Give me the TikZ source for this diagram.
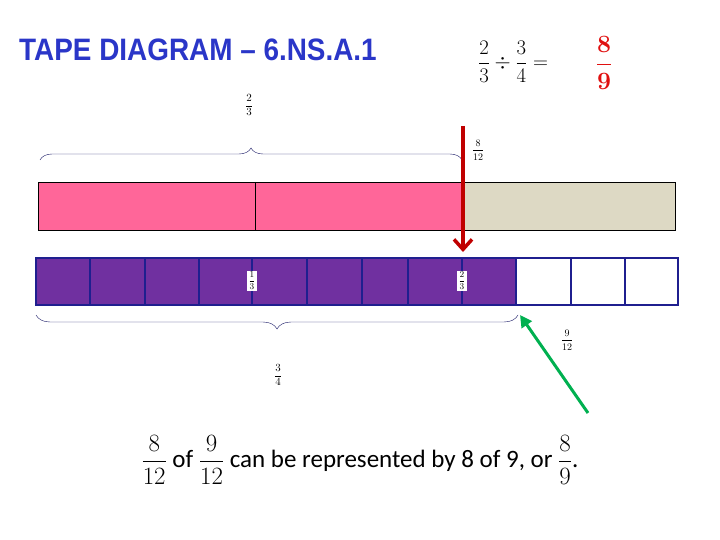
\documentclass[tikz,border=0pt]{standalone}
\usepackage{amsmath}
\usepackage{fontspec}
\setmainfont{Carlito}
\newfontfamily\titlefont{Liberation Sans}
\newfontfamily\serifb{Liberation Serif}
\usetikzlibrary{decorations.pathreplacing,arrows.meta}
\definecolor{tpink}{HTML}{FF6699}
\definecolor{tgrey}{HTML}{DDD9C4}
\definecolor{tpurple}{HTML}{7030A0}
\definecolor{tnavy}{HTML}{1F1F8F}
\definecolor{tblue}{HTML}{2A36C8}
\definecolor{tred}{HTML}{E01010}
\definecolor{tarrow}{HTML}{C00000}
\definecolor{tgreen}{HTML}{00B050}
\tikzset{
 cell/.style={draw=tnavy,line width=2.5pt},
 brace/.style={draw=tnavy!70!black,thin,decorate,decoration={brace,amplitude=12pt}},
 small/.style={font=\fontsize{10}{11}\selectfont,inner sep=1pt},
 lbl/.style={fill=white,font=\fontsize{9}{10}\selectfont,inner sep=1pt}
}
\begin{document}
\begin{tikzpicture}[x=1pt,y=-1pt]
\useasboundingbox (0,0) rectangle (720,540);
\node[anchor=west,font=\titlefont\bfseries\fontsize{31}{33}\selectfont,text=tblue,xscale=0.9] (title) at (16,50) {TAPE DIAGRAM – 6.NS.A.1};
\node[font=\fontsize{22}{24}\selectfont] (eq) at (513,62) {$\dfrac{2}{3}\div\dfrac{3}{4}=$};
\node[font=\fontsize{30}{32}\selectfont,text=tred] (ans) at (604,63) {$\boldsymbol{\dfrac{8}{9}}$};
% pink bar
\fill[tpink] (38,182) rectangle (465,230);
\fill[tgrey] (465,182) rectangle (675,230);
\draw[thin] (38,182) rectangle (675,230);
\draw[thin] (255,182) -- (255,230);
% purple bar
\fill[tpurple] (36,258) rectangle (516,305);
\foreach \x in {90,145,199,252,307,362,408,462,516,571,625}{\draw[cell,line width=2pt] (\x,258) -- (\x,305);}
\draw[cell] (36,258) rectangle (678,305);
\node[lbl] (l13) at (252,281) {$\dfrac{1}{3}$};
\node[lbl] (l23) at (462,281) {$\dfrac{2}{3}$};
% top brace
\coordinate (tb1) at (40,160);
\coordinate (tb2) at (462,160);
\draw[brace] (tb1) -- (tb2);
\node[small,font=\fontsize{11}{12}\selectfont] (t23) at (249,105) {$\dfrac{2}{3}$};
\node[small] (t812) at (478,150) {$\dfrac{8}{12}$};
% red arrow
\coordinate (ra) at (463,126);
\coordinate (rb) at (463,252);
\draw[tarrow,line width=3.5pt,-{Straight Barb[length=10pt,width=18pt]}] (ra) -- (rb);
% bottom brace
\coordinate (bb1) at (518,315);
\coordinate (bb2) at (36,315);
\draw[brace,decoration={brace,amplitude=14pt}] (bb1) -- (bb2);
\node[small,font=\fontsize{11}{12}\selectfont] (b34) at (278,375) {$\dfrac{3}{4}$};
\node[small] (b912) at (567,340) {$\dfrac{9}{12}$};
% green arrow
\coordinate (ga) at (588,413);
\coordinate (gb) at (520,315);
\draw[tgreen,line width=3pt,-{Triangle[length=12pt,width=12pt]}] (ga) -- (gb);
% bottom text
\node[font=\fontsize{25}{27}\selectfont] (txt) at (360,460) {$\dfrac{8}{12}$ of $\dfrac{9}{12}$ can be represented by 8 of 9, or $\dfrac{8}{9}$.};
\end{tikzpicture}
\end{document}
